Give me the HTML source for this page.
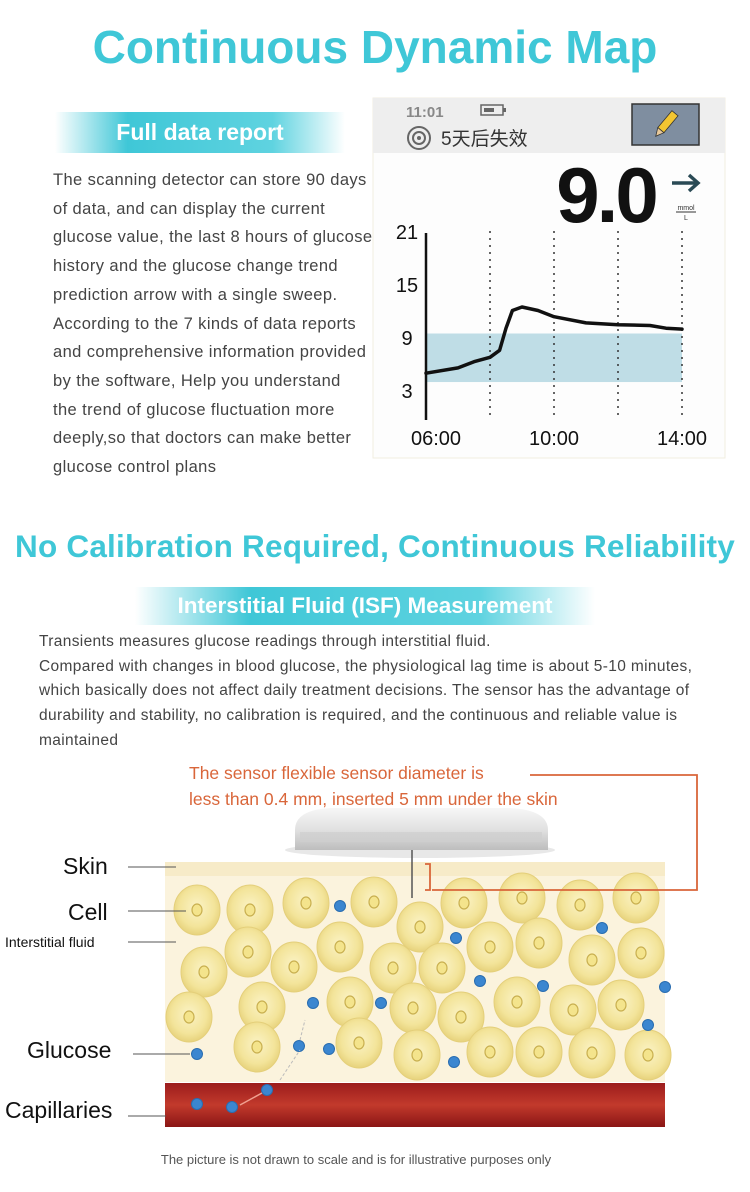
<!DOCTYPE html>
<html><head><meta charset="utf-8">
<style>
html,body{margin:0;padding:0;background:#fff;}
body{width:750px;height:1192px;position:relative;overflow:hidden;font-family:"Liberation Sans","Noto Sans CJK SC",sans-serif;}
.abs{position:absolute;}
h1{position:absolute;margin:0;left:0;width:750px;top:20px;text-align:center;font-size:46px;font-weight:bold;color:#3fc7d7;letter-spacing:0px;}
h2{position:absolute;margin:0;left:0;width:750px;top:528px;text-align:center;font-size:31.5px;font-weight:bold;color:#3fc7d7;letter-spacing:0.2px;}
.banner{position:absolute;color:#fff;font-weight:bold;text-align:center;background:linear-gradient(90deg,rgba(63,199,215,0),#3fc7d7 25%,#5fd3e0 75%,rgba(63,199,215,0));}
.p1{position:absolute;left:53px;top:166px;font-size:16.5px;letter-spacing:0.4px;line-height:28.7px;color:#444;white-space:nowrap;}
.p2{position:absolute;left:39px;top:630px;font-size:15.5px;letter-spacing:0.35px;line-height:24.7px;color:#444;white-space:nowrap;}
</style></head><body>
<h1>Continuous Dynamic Map</h1>
<div class="banner" style="left:55px;top:112px;width:290px;height:41px;line-height:41px;font-size:23px;">Full data report</div>
<div class="p1">The scanning detector can store 90 days<br>of data, and can display the current<br>glucose value, the last 8 hours of glucose<br>history and the glucose change trend<br>prediction arrow with a single sweep.<br>According to the 7 kinds of data reports<br>and comprehensive information provided<br>by the software, Help you understand<br>the trend of glucose fluctuation more<br>deeply,so that doctors can make better<br>glucose control plans</div>

<svg class="abs" style="left:0;top:0" width="750" height="470">
  <rect x="373" y="98" width="352" height="360" fill="#fdfdfd" stroke="#f1eee0"/>
  <rect x="373" y="98" width="352" height="55" fill="#eeeeee"/>
  <text x="406" y="117" font-size="15" fill="#888" font-weight="bold">11:01</text>
  <g><rect x="481" y="105" width="22" height="10" fill="none" stroke="#666" stroke-width="1.5"/><rect x="484" y="108" width="10" height="4" fill="#666"/><rect x="503" y="108" width="3" height="4" fill="#666"/></g>
  <g><circle cx="419" cy="138" r="11" fill="none" stroke="#666" stroke-width="2"/><circle cx="419" cy="138" r="6" fill="none" stroke="#666" stroke-width="2"/><circle cx="419" cy="138" r="2" fill="#666"/></g>
  <text x="441" y="145" font-size="19" fill="#333" font-family="Liberation Sans,Noto Sans CJK SC,sans-serif">5天后失效</text>
  <g><rect x="632" y="104" width="67" height="41" fill="#7f8ea0" stroke="#333" stroke-width="1.5"/><g transform="rotate(40 666 124)"><rect x="662" y="110" width="8" height="22" fill="#f2c531" stroke="#333" stroke-width="0.8"/><polygon points="662,132 670,132 666,140" fill="#e8c99a" stroke="#333" stroke-width="0.8"/></g></g>
  <text x="606" y="222" font-size="78" font-weight="bold" fill="#111" text-anchor="middle" letter-spacing="-3">9.0</text>
  <g><line x1="672" y1="183" x2="698" y2="183" stroke="#2a4a55" stroke-width="3.5"/><polyline points="689,175 698,183 689,191" fill="none" stroke="#2a4a55" stroke-width="3.5"/></g>
  <text x="686" y="210" font-size="7" fill="#333" text-anchor="middle">mmol</text>
  <line x1="676" y1="212" x2="696" y2="212" stroke="#333" stroke-width="1"/>
  <text x="686" y="220" font-size="7" fill="#333" text-anchor="middle">L</text>
  <g id="plot"></g>
</svg>

<h2>No Calibration Required, Continuous Reliability</h2>
<div class="banner" style="left:135px;top:587px;width:460px;height:38px;line-height:38px;font-size:22.5px;">Interstitial Fluid (ISF) Measurement</div>
<div class="p2">Transients measures glucose readings through interstitial fluid.<br>Compared with changes in blood glucose, the physiological lag time is about 5-10 minutes,<br>which basically does not affect daily treatment decisions. The sensor has the advantage of<br>durability and stability, no calibration is required, and the continuous and reliable value is<br>maintained</div>

<svg class="abs" style="left:0;top:750px" width="750" height="442">
  <defs>
    <radialGradient id="cellg" cx="50%" cy="45%" r="55%"><stop offset="0" stop-color="#fbf3c6"/><stop offset="0.7" stop-color="#f3e49a"/><stop offset="1" stop-color="#e7d27c"/></radialGradient>
    <linearGradient id="capg" x1="0" y1="0" x2="0" y2="1"><stop offset="0" stop-color="#9c1c1c"/><stop offset="0.5" stop-color="#c23a2c"/><stop offset="1" stop-color="#8a1515"/></linearGradient>
    <linearGradient id="discg" x1="0" y1="0" x2="0" y2="1"><stop offset="0" stop-color="#f7f7f7"/><stop offset="0.5" stop-color="#e2e2e2"/><stop offset="1" stop-color="#bdbdbd"/></linearGradient>
  </defs>
  <rect x="165" y="112" width="500" height="220" fill="#fbf3dd"/>
  <rect x="165" y="112" width="500" height="14" fill="#f7ebc8"/>
  <g id="cells"></g>
  <rect x="165" y="333" width="500" height="44" fill="url(#capg)"/>
  <g id="dots"></g>
  <path d="M240 355 L262 343" stroke="#f0a090" stroke-width="1.5"/>
  <path d="M280 330 L300 300 M300 290 L305 270" stroke="#bbb" stroke-width="1" stroke-dasharray="3,2"/>
  <g>
    <ellipse cx="420" cy="100" rx="135" ry="8" fill="#e8e8e8"/>
    <path d="M295 80 Q295 60 330 58 L510 58 Q548 60 548 80 L548 100 L295 100 Z" fill="url(#discg)"/>
    <rect x="300" y="82" width="242" height="10" fill="#cfcfcf" opacity="0.7"/>
  </g>
  <line x1="412" y1="100" x2="412" y2="148" stroke="#555" stroke-width="1.5"/>
  <g stroke="#d9663a" stroke-width="1.8" fill="none">
    <polyline points="530,25 697,25 697,140 432,140"/>
    <polyline points="425,114 430,114 430,140 425,140"/>
  </g>
  <text x="189" y="29" font-size="17.5" fill="#d9663a">The sensor flexible sensor diameter is</text>
  <text x="189" y="55" font-size="17.5" fill="#d9663a">less than 0.4 mm, inserted 5 mm under the skin</text>
  <text x="63" y="124" font-size="23" fill="#111">Skin</text>
  <line x1="128" y1="117" x2="176" y2="117" stroke="#555"/>
  <text x="68" y="170" font-size="23" fill="#111">Cell</text>
  <line x1="128" y1="161" x2="186" y2="161" stroke="#555"/>
  <text x="5" y="197" font-size="14" fill="#111">Interstitial fluid</text>
  <line x1="128" y1="192" x2="176" y2="192" stroke="#555"/>
  <text x="27" y="308" font-size="23" fill="#111">Glucose</text>
  <line x1="133" y1="304" x2="190" y2="304" stroke="#555"/>
  <text x="5" y="368" font-size="23" fill="#111">Capillaries</text>
  <line x1="128" y1="366" x2="166" y2="366" stroke="#555"/>
  <text x="356" y="414" font-size="13" fill="#555" text-anchor="middle">The picture is not drawn to scale and is for illustrative purposes only</text>
</svg>

<script>
// chart data
var hours = [6, 7, 7.5, 8, 8.3, 8.5, 8.7, 9, 9.5, 10, 11, 12, 13, 13.5, 14];
var glucose = [4.9, 5.5, 6.2, 6.7, 7.5, 10.0, 12.0, 12.4, 12.0, 11.3, 10.6, 10.4, 10.3, 10.0, 9.9];
var yTicks = [3, 9, 15, 21];
var xTickHours = [6, 10, 14];
var xTickLabels = ["06:00", "10:00", "14:00"];
var gridHours = [8, 10, 12, 14];
var targetRange = [3.9, 9.4];

var NS = "http://www.w3.org/2000/svg";
function xs(h){ return 426 + (h - 6) * 32; }
function ys(v){ return 390 - (v - 3) * 8.83; }
function mk(tag, attrs, parent){ var e = document.createElementNS(NS, tag); for (var k in attrs) e.setAttribute(k, attrs[k]); parent.appendChild(e); return e; }
var plot = document.getElementById('plot');
var band = mk('rect', {x: xs(6), y: ys(targetRange[1]), width: xs(14) - xs(6), height: ys(targetRange[0]) - ys(targetRange[1]), fill: '#bfdde6'}, plot);


gridHours.forEach(function(h){
  var g = mk('line', {x1: xs(h), x2: xs(h), y1: ys(21), y2: 420, stroke: '#333', 'stroke-width': 1.5, 'stroke-dasharray': '2,5'}, plot);
  
  
});
var ax = mk('line', {x1: xs(6), x2: xs(6), y1: ys(21) + 2, y2: 420, stroke: '#111', 'stroke-width': 2.5}, plot);


yTicks.forEach(function(v){
  var t = mk('text', {x: 407, y: ys(v) + 8, 'font-size': 20, fill: '#111', 'text-anchor': 'middle'}, plot);
  t.textContent = v;
  
  
});
xTickHours.forEach(function(h, i){
  var t = mk('text', {x: xs(h) + (i === 0 ? 10 : 0), y: 445, 'font-size': 20, fill: '#111', 'text-anchor': 'middle'}, plot);
  t.textContent = xTickLabels[i];
  
  
});
var d = hours.map(function(h, i){ return (i ? 'L' : 'M') + xs(h).toFixed(1) + ' ' + ys(glucose[i]).toFixed(1); }).join(' ');
var line = mk('path', {d: d, fill: 'none', stroke: '#111', 'stroke-width': 3.5, 'stroke-linejoin': 'round', 'stroke-linecap': 'round'}, plot);



// illustration
var cellPos = [[197,910],[250,910],[306,903],[374,902],[420,927],[464,903],[522,898],[580,905],[636,898],
[204,972],[248,952],[294,967],[340,947],[393,968],[442,968],[490,947],[539,943],[592,960],[641,953],
[189,1017],[262,1007],[350,1002],[413,1008],[461,1017],[517,1002],[573,1010],[621,1005],
[257,1047],[359,1043],[417,1055],[490,1052],[539,1052],[592,1053],[648,1055]];
var dotPos = [[340,906],[456,938],[602,928],[480,981],[543,986],[665,987],[313,1003],[381,1003],[648,1025],[197,1054],[299,1046],[329,1049],[454,1062],[197,1104],[232,1107],[267,1090]];
var cg = document.getElementById('cells');
cellPos.forEach(function(p){
  var g = mk('g', {}, cg);
  
  
  mk('ellipse', {cx: p[0], cy: p[1] - 750, rx: 23, ry: 25, fill: 'url(#cellg)', stroke: '#e4cf7a', 'stroke-width': 1}, g);
  mk('ellipse', {cx: p[0], cy: p[1] - 750, rx: 5, ry: 6, fill: '#f4e48c', stroke: '#c9b050', 'stroke-width': 1.2}, g);
});
var dg = document.getElementById('dots');
dotPos.forEach(function(p){
  var c = mk('circle', {cx: p[0], cy: p[1] - 750, r: 5.5, fill: '#3b86d0', stroke: '#2a6db0', 'stroke-width': 1}, dg);
  
  
});
</script>
</body></html>
